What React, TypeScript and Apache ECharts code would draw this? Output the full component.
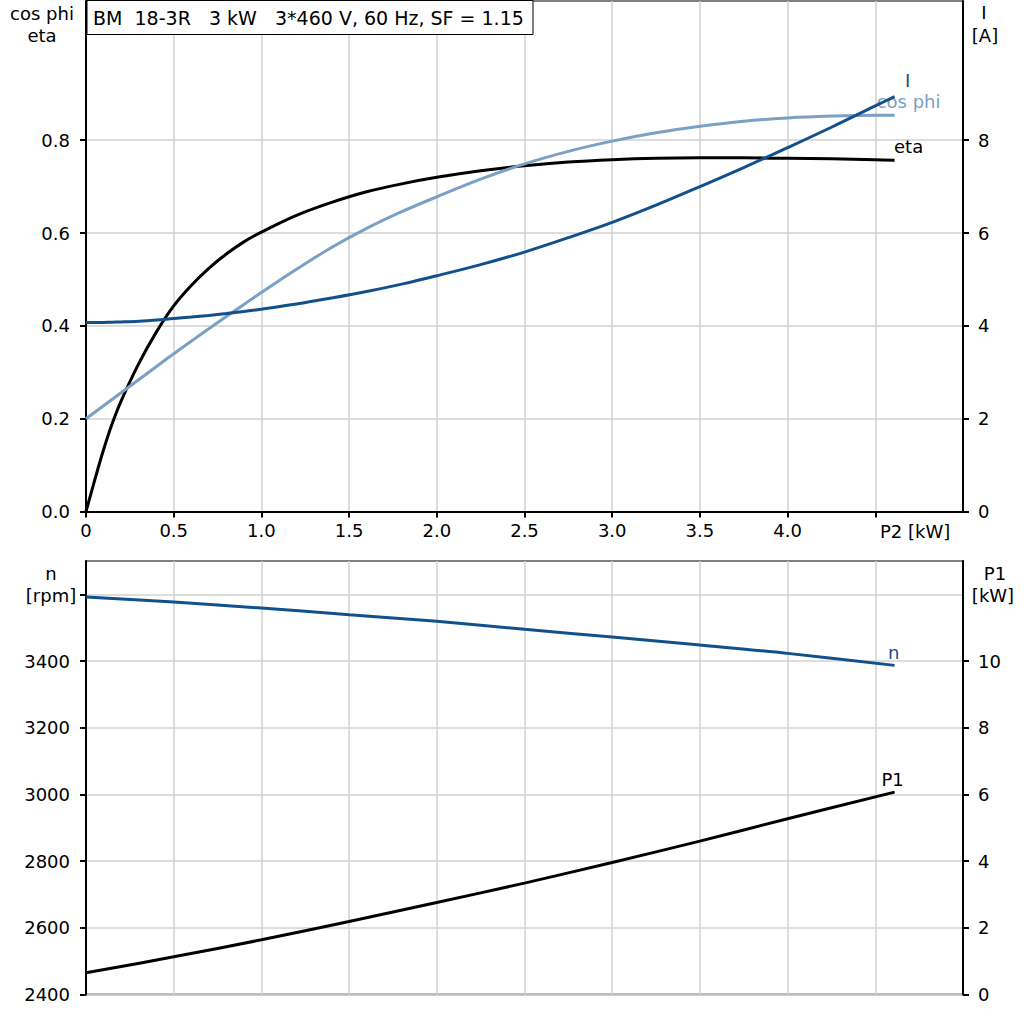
import { useEffect, useRef } from 'react';
import * as echarts from 'echarts';

// ---- data ----
const p2Top = [0, 0.05, 0.1, 0.15, 0.2, 0.3, 0.4, 0.5, 0.6, 0.7, 0.8, 0.9, 1.0, 1.2, 1.4, 1.6, 1.8, 2.0, 2.25, 2.5, 2.75, 3.0, 3.25, 3.5, 3.75, 4.0, 4.25, 4.5, 4.61];
const etaValues = [0, 0.068, 0.133, 0.19, 0.238, 0.318, 0.386, 0.443, 0.487, 0.524, 0.555, 0.581, 0.602, 0.638, 0.666, 0.689, 0.706, 0.72, 0.734, 0.745, 0.753, 0.758, 0.761, 0.762, 0.762, 0.761, 0.76, 0.758, 0.757];
const cosPhiValues = [0.2, 0.214, 0.228, 0.242, 0.256, 0.284, 0.312, 0.34, 0.367, 0.394, 0.42, 0.446, 0.472, 0.522, 0.569, 0.61, 0.646, 0.678, 0.716, 0.749, 0.776, 0.798, 0.816, 0.83, 0.841, 0.848, 0.852, 0.854, 0.854];
const currentValues = [4.07, 4.072, 4.075, 4.08, 4.085, 4.1, 4.125, 4.16, 4.19, 4.225, 4.265, 4.31, 4.36, 4.47, 4.6, 4.74, 4.9, 5.08, 5.32, 5.59, 5.9, 6.23, 6.6, 7.0, 7.41, 7.84, 8.28, 8.74, 8.94];

const p2Bottom = [0, 0.5, 1.0, 1.5, 2.0, 2.5, 3.0, 3.5, 4.0, 4.61];
const speedValues = [3592, 3577, 3559, 3539, 3519, 3495, 3472, 3448, 3423, 3387];
const p1Values = [0.65, 1.13, 1.64, 2.19, 2.76, 3.34, 3.96, 4.6, 5.27, 6.07];

const xLabelValues = [0, 0.5, 1.0, 1.5, 2.0, 2.5, 3.0, 3.5, 4.0];
const xTickValues = [0, 0.5, 1.0, 1.5, 2.0, 2.5, 3.0, 3.5, 4.0, 4.5];
const topLeftTicks = [0, 0.2, 0.4, 0.6, 0.8];
const topRightTicks = [0, 2, 4, 6, 8];
const bottomLeftLabels = [2400, 2600, 2800, 3000, 3200, 3400];
const bottomLeftTicks = [2400, 2600, 2800, 3000, 3200, 3400, 3600];
const bottomRightTicks = [0, 2, 4, 6, 8, 10];

const titleText = 'BM  18-3R   3 kW   3*460 V, 60 Hz, SF = 1.15';
const xAxisTitle = 'P2 [kW]';

const FONT = '"DejaVu Sans", sans-serif';
const DARK = '#12508c';
const LIGHT = '#7aa0c4';
const GRID = '#d2d2d2';

function makeLine(
  name: string,
  xs: number[],
  ys: number[],
  xi: number,
  yi: number,
  color: string,
  offset: number[],
  z: number
) {
  return {
    type: 'line',
    name,
    xAxisIndex: xi,
    yAxisIndex: yi,
    data: xs.map((x, i) => [x, ys[i]]),
    showSymbol: false,
    symbol: 'none',
    smooth: 0.35,
    silent: true,
    z,
    lineStyle: { color, width: 3 },
    itemStyle: { color },
    endLabel: {
      show: true,
      formatter: name,
      color,
      fontSize: 18,
      fontFamily: FONT,
      align: 'center',
      verticalAlign: 'middle',
      distance: 0,
      offset,
    },
  };
}

function text(t: string, x: number, y: number, align: string, color = '#000', size = 18) {
  return {
    type: 'text',
    x,
    y,
    z: 101,
    silent: true,
    style: {
      text: t,
      fill: color,
      font: `${size}px ${FONT}`,
      textAlign: align,
      align,
      textVerticalAlign: 'middle',
      verticalAlign: 'middle',
    },
  };
}

export default function App() {
  const ref = useRef<HTMLDivElement>(null);
  useEffect(() => {
    if (!ref.current) return;
    const chart = echarts.init(ref.current, undefined, { renderer: 'svg' });
    const axisLabelBase = { color: '#000', fontSize: 18, fontFamily: FONT };
    const blackLine = { show: true, lineStyle: { color: '#000', width: 2 } };
    const tickStyle = { show: true, length: 6, lineStyle: { color: '#000', width: 2 } };
    const split = { show: true, lineStyle: { color: GRID, width: 1.5 } };

    chart.setOption({
      animation: false,
      backgroundColor: '#fff',
      grid: [
        { left: 86, width: 877, top: 1, height: 510.5, show: true, borderColor: '#000', borderWidth: 1, backgroundColor: 'transparent', outerBoundsMode: 'none', containLabel: false },
        { left: 86, width: 877, top: 561, height: 433.5, show: true, borderColor: '#808080', borderWidth: 2, backgroundColor: 'transparent', outerBoundsMode: 'none', containLabel: false },
      ],
      xAxis: [
        {
          type: 'value', gridIndex: 0, min: 0, max: 5, interval: 0.5,
          axisLine: blackLine,
          axisTick: { ...tickStyle, customValues: xTickValues },
          axisLabel: { ...axisLabelBase, margin: 10, customValues: xLabelValues, formatter: (v: number) => (v === 0 ? '0' : v.toFixed(1)) },
          splitLine: split,
        },
        {
          type: 'value', gridIndex: 1, min: 0, max: 5, interval: 0.5,
          axisLine: { show: false }, axisTick: { show: false }, axisLabel: { show: false },
          splitLine: split,
        },
      ],
      yAxis: [
        {
          type: 'value', gridIndex: 0, position: 'left', min: 0, max: 1.1, interval: 0.1,
          axisLine: blackLine,
          axisTick: { ...tickStyle, customValues: topLeftTicks },
          axisLabel: { ...axisLabelBase, margin: 16, customValues: topLeftTicks, formatter: (v: number) => v.toFixed(1) },
          splitLine: split,
        },
        {
          type: 'value', gridIndex: 0, position: 'right', min: 0, max: 11, interval: 1,
          axisLine: blackLine,
          axisTick: { ...tickStyle, customValues: topRightTicks },
          axisLabel: { ...axisLabelBase, margin: 15, customValues: topRightTicks, formatter: (v: number) => String(v) },
          splitLine: { show: false },
        },
        {
          type: 'value', gridIndex: 1, position: 'left', min: 2400, max: 3700, interval: 100,
          axisLine: blackLine,
          axisTick: { ...tickStyle, customValues: bottomLeftTicks },
          axisLabel: { ...axisLabelBase, margin: 16, customValues: bottomLeftLabels, formatter: (v: number) => String(v) },
          splitLine: split,
        },
        {
          type: 'value', gridIndex: 1, position: 'right', min: 0, max: 13, interval: 1,
          axisLine: blackLine,
          axisTick: { ...tickStyle, customValues: bottomRightTicks },
          axisLabel: { ...axisLabelBase, margin: 15, customValues: bottomRightTicks, formatter: (v: number) => String(v) },
          splitLine: { show: false },
        },
      ],
      series: [
        makeLine('eta', p2Top, etaValues, 0, 0, '#000', [14, -14], 3),
        makeLine('cos phi', p2Top, cosPhiValues, 0, 0, LIGHT, [14, -14], 4),
        makeLine('I', p2Top, currentValues, 0, 1, DARK, [13, -16], 5),
        makeLine('n', p2Bottom, speedValues, 1, 2, DARK, [-1, -13], 4),
        makeLine('P1', p2Bottom, p1Values, 1, 3, '#000', [-2, -13], 3),
      ],
      graphic: {
        elements: [
          { type: 'rect', z: 100, silent: true, shape: { x: 87, y: 0.5, width: 446, height: 34 }, style: { fill: '#fff', stroke: '#000', lineWidth: 1 } },
          text(titleText, 93, 18, 'left', '#000', 19),
          text('cos phi', 42, 13, 'center'),
          text('eta', 42, 35, 'center'),
          text('I', 984, 12, 'center'),
          text('[A]', 985, 35, 'center'),
          text('n', 51, 573, 'center'),
          text('[rpm]', 51, 595, 'center'),
          text('P1', 995, 573, 'center'),
          text('[kW]', 993, 595, 'center'),
          text(xAxisTitle, 880, 531, 'left'),
        ],
      },
    });
    return () => chart.dispose();
  }, []);
  return <div ref={ref} style={{ position: 'absolute', left: 0, top: 0, width: 1024, height: 1024 }} />;
}
